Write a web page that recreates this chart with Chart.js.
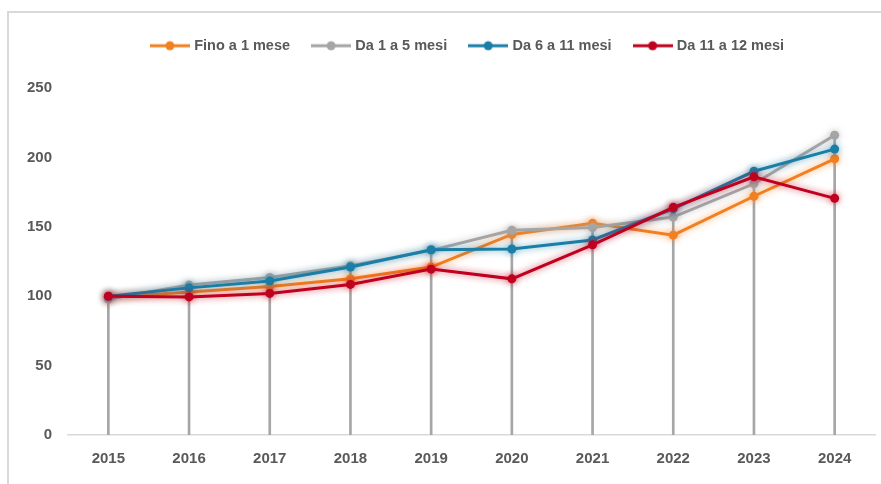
<!DOCTYPE html>
<html lang="it">
<head>
<meta charset="UTF-8">
<title>Indice per durata</title>
<script src="https://cdn.jsdelivr.net/npm/chart.js@4"></script>
<style>
  body { margin: 0; background: #fff; }
  #wrap { position: relative; width: 881px; height: 484px; }
  #frame { position: absolute; left: 7px; top: 11px; width: 900px; height: 500px;
           border-left: 2px solid #d9d9d9; border-top: 2px solid #d9d9d9; }
  canvas { position: absolute; left: 0; top: 0; }
</style>
</head>
<body>
<div id="wrap">
  <div id="frame"></div>
  <canvas id="chart" width="881" height="484"></canvas>
</div>
<script>
// data
const years = ['2015', '2016', '2017', '2018', '2019', '2020', '2021', '2022', '2023', '2024'];
const finoA1 = [99, 103, 107, 112.5, 121, 144.5, 152.5, 144, 172, 199];
const da1a5 = [98, 108, 113.5, 122, 133, 147.5, 149.5, 157, 181, 216];
const da6a11 = [100, 106, 111, 121, 133.5, 134, 140.5, 163, 190, 206];
const da11a12 = [100, 99.5, 102, 108.5, 119.5, 112.5, 137, 164, 186, 170.5];
const yTicks = [0, 50, 100, 150, 200, 250];

const labelColor = '#595959';
const series = [
  { label: 'Fino a 1 mese', data: finoA1, color: '#F28020', order: 4 },
  { label: 'Da 1 a 5 mesi', data: da1a5, color: '#A5A5A5', order: 3 },
  { label: 'Da 6 a 11 mesi', data: da6a11, color: '#1A7EA6', order: 2 },
  { label: 'Da 11 a 12 mesi', data: da11a12, color: '#C0001F', order: 1 }
];

// drop lines: from the highest point of each year down to the axis
const dropTops = years.map((_, i) => Math.max(finoA1[i], da1a5[i], da6a11[i], da11a12[i]));

// legend marker: short line with a dot (a bit wider than its legend box)
function legendMarker(color) {
  const c = document.createElement('canvas');
  c.width = 40; c.height = 12;
  const g = c.getContext('2d');
  g.strokeStyle = color; g.lineWidth = 3;
  g.beginPath(); g.moveTo(0, 6); g.lineTo(40, 6); g.stroke();
  g.fillStyle = color;
  g.beginPath(); g.arc(20, 6, 4.5, 0, Math.PI * 2); g.fill();
  return c;
}

const glow = {
  id: 'glow',
  beforeDatasetDraw(chart, args) {
    const ds = chart.data.datasets[args.index];
    if (ds.type === 'bar') return;
    const ctx = chart.ctx;
    ctx.save();
    ctx.shadowColor = ds.borderColor + 'AA';
    ctx.shadowBlur = 7;
  },
  afterDatasetDraw(chart, args) {
    const ds = chart.data.datasets[args.index];
    if (ds.type === 'bar') return;
    chart.ctx.restore();
  }
};

// extra room between legend and plot, and legend centred over the plot
const legendGap = {
  id: 'legendGap',
  beforeLayout(chart) {
    const lg = chart.legend;
    if (lg && !lg._gapPatched) {
      const fit = lg.fit;
      lg.fit = function () { fit.call(this); this.height += 25; };
      lg._gapPatched = true;
    }
  },
  afterLayout(chart) {
    const lg = chart.legend;
    const shift = (chart.chartArea.left + chart.chartArea.right) / 2 - 3 - (lg.left + lg.right) / 2;
    lg.left += shift;
    lg.right += shift;
  }
};

const datasets = series.map(s => ({
  type: 'line',
  label: s.label,
  data: s.data,
  borderColor: s.color,
  backgroundColor: s.color,
  borderWidth: 3,
  pointStyle: 'circle',
  pointRadius: 4.5,
  pointHoverRadius: 4.5,
  pointBorderWidth: 0,
  tension: 0,
  order: s.order
}));
datasets.push({
  type: 'bar',
  label: 'drop',
  data: dropTops.map(v => [0, v]),
  backgroundColor: '#A6A6A6',
  barThickness: 2,
  order: 10
});

new Chart(document.getElementById('chart'), {
  type: 'line',
  data: { labels: years, datasets: datasets },
  plugins: [glow, legendGap],
  options: {
    responsive: false,
    animation: false,
    layout: { padding: { left: 26, right: 6, top: 14.5, bottom: 1 } },
    plugins: {
      tooltip: { enabled: false },
      legend: {
        position: 'top',
        labels: {
          usePointStyle: true,
          pointStyleWidth: 34,
          padding: 24,
          color: labelColor,
          font: { family: 'Liberation Sans, Arial, sans-serif', size: 14.5, weight: 'bold' },
          filter: item => item.text !== 'drop',
          sort: (a, b) => a.datasetIndex - b.datasetIndex,
          generateLabels(chart) {
            return chart.data.datasets.map((ds, i) => ({
              text: ds.label,
              datasetIndex: i,
              fontColor: labelColor,
              pointStyle: ds.type === 'bar' ? 'line' : legendMarker(ds.borderColor),
              hidden: false,
              lineWidth: 0,
              strokeStyle: ds.borderColor,
              fillStyle: ds.borderColor
            }));
          }
        }
      }
    },
    scales: {
      x: {
        offset: true,
        grid: { display: false, drawTicks: false },
        border: { color: '#D9D9D9', width: 1.5 },
        ticks: {
          color: labelColor,
          padding: 15,
          font: { family: 'Liberation Sans, Arial, sans-serif', size: 15, weight: 'bold' }
        }
      },
      y: {
        min: yTicks[0],
        max: yTicks[yTicks.length - 1],
        afterBuildTicks(scale) { scale.ticks = yTicks.map(v => ({ value: v })); },
        afterFit(scale) { scale.width = 42; },
        grid: { display: false, drawTicks: false },
        border: { display: false },
        ticks: {
          color: labelColor,
          padding: 16,
          font: { family: 'Liberation Sans, Arial, sans-serif', size: 15, weight: 'bold' }
        }
      }
    }
  }
});
</script>
</body>
</html>
